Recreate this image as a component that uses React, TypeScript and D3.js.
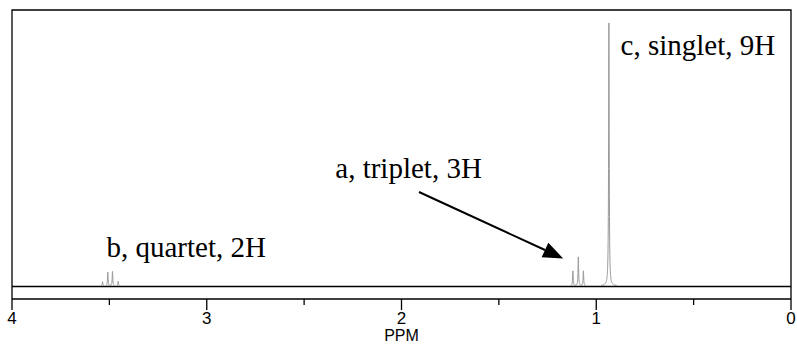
import { useEffect, useRef } from 'react'
import * as d3 from 'd3'

// peak positions (ppm) and relative heights
const quartetPpm = [3.535, 3.508, 3.484, 3.455]
const quartetHeight = [0.016, 0.052, 0.055, 0.018]
const tripletPpm = [1.12, 1.092, 1.066]
const tripletHeight = [0.057, 0.11, 0.057]
const singletPpm = [0.935]
const singletHeight = [1.0]

const majorTicks = [4, 3, 2, 1, 0]
const minorTicks = [3.5, 2.5, 1.5, 0.5]

const labels = [
  { text: 'c, singlet, 9H', ppm: 0.875, h: 0.88 },
  { text: 'a, triplet, 3H', ppm: 2.34, h: 0.41 },
  { text: 'b, quartet, 2H', ppm: 3.515, h: 0.112 },
]

const W = 797
const H = 345

export default function App() {
  const svgRef = useRef<SVGSVGElement>(null)

  useEffect(() => {
    if (!svgRef.current) return
    const svg = d3.select(svgRef.current)
    svg.selectAll('*').remove()

    const left = 12
    const right = 791
    const top = 10
    const axisY = 299
    const baseY = 286

    const x = d3.scaleLinear().domain([4, 0]).range([left, right])
    const y = d3.scaleLinear().domain([0, 1]).range([baseY, 23])

    const peaks = [
      ...quartetPpm.map((p, i) => ({ ppm: p, h: quartetHeight[i] })),
      ...tripletPpm.map((p, i) => ({ ppm: p, h: tripletHeight[i] })),
      ...singletPpm.map((p, i) => ({ ppm: p, h: singletHeight[i] })),
    ]

    // frame
    svg.append('path')
      .attr('d', `M${left},${axisY}V${top}H${right}V${axisY}`)
      .attr('fill', 'none')
      .attr('stroke', '#000')
      .attr('stroke-width', 1.3)

    // spectrum: lorentzian line shapes on a fine grid
    const hw = 0.0018
    const grid = d3.range(4, 0, -0.0005).concat(peaks.map((p) => p.ppm)).sort((a, b) => b - a)
    const spec = grid.map((g) => [
      g,
      d3.sum(peaks, (p) => p.h * (hw * hw) / ((g - p.ppm) ** 2 + hw * hw)),
    ])
    svg.append('path')
      .datum(spec)
      .attr('fill', 'none')
      .attr('stroke', '#999')
      .attr('stroke-width', 1)
      .attr('d', d3.line<number[]>()
        .defined((d) => d[1] > 0.002)
        .x((d) => x(d[0]))
        .y((d) => y(d[1])))

    // baseline
    svg.append('line')
      .attr('x1', left).attr('x2', right)
      .attr('y1', baseY + 0.5).attr('y2', baseY + 0.5)
      .attr('stroke', '#000')
      .attr('stroke-width', 1.3)

    // axis
    svg.append('line')
      .attr('x1', left).attr('x2', right)
      .attr('y1', axisY).attr('y2', axisY)
      .attr('stroke', '#000')
      .attr('stroke-width', 1.3)

    svg.selectAll('.major')
      .data(majorTicks)
      .join('line')
      .attr('x1', (d) => x(d)).attr('x2', (d) => x(d))
      .attr('y1', axisY).attr('y2', axisY + 11)
      .attr('stroke', '#000')
      .attr('stroke-width', 1.3)

    svg.selectAll('.minor')
      .data(minorTicks)
      .join('line')
      .attr('x1', (d) => x(d)).attr('x2', (d) => x(d))
      .attr('y1', axisY).attr('y2', axisY + 6)
      .attr('stroke', '#000')
      .attr('stroke-width', 1.3)

    svg.selectAll('.ticklabel')
      .data(majorTicks)
      .join('text')
      .attr('x', (d) => x(d))
      .attr('y', 324)
      .attr('text-anchor', 'middle')
      .attr('font-family', '"Liberation Sans", Arial, sans-serif')
      .attr('font-size', 17)
      .text((d) => d)

    svg.append('text')
      .attr('x', x(2))
      .attr('y', 341)
      .attr('text-anchor', 'middle')
      .attr('font-family', '"Liberation Sans", Arial, sans-serif')
      .attr('font-size', 16)
      .text('PPM')

    // peak labels
    svg.selectAll('.lab')
      .data(labels)
      .join('text')
      .attr('x', (d) => x(d.ppm))
      .attr('y', (d) => y(d.h))
      .attr('font-family', '"Liberation Serif", "Times New Roman", serif')
      .attr('font-size', 29)
      .text((d) => d.text)

    // arrow to triplet
    const x0 = 419, y0 = 192
    const x1 = x(1.17), y1 = y(0.105)
    const ang = Math.atan2(y1 - y0, x1 - x0)
    const len = 20, wid = 8
    const bx = x1 - len * Math.cos(ang)
    const by = y1 - len * Math.sin(ang)
    svg.append('line')
      .attr('x1', x0).attr('y1', y0)
      .attr('x2', bx).attr('y2', by)
      .attr('stroke', '#000')
      .attr('stroke-width', 2)
    svg.append('path')
      .attr('d', `M${x1},${y1}L${bx + wid * Math.sin(ang)},${by - wid * Math.cos(ang)}L${bx - wid * Math.sin(ang)},${by + wid * Math.cos(ang)}Z`)
      .attr('fill', '#000')
  }, [])

  return (
    <svg
      ref={svgRef}
      width={W}
      height={H}
      style={{ position: 'absolute', left: 0, top: 0, background: '#fff' }}
    />
  )
}
